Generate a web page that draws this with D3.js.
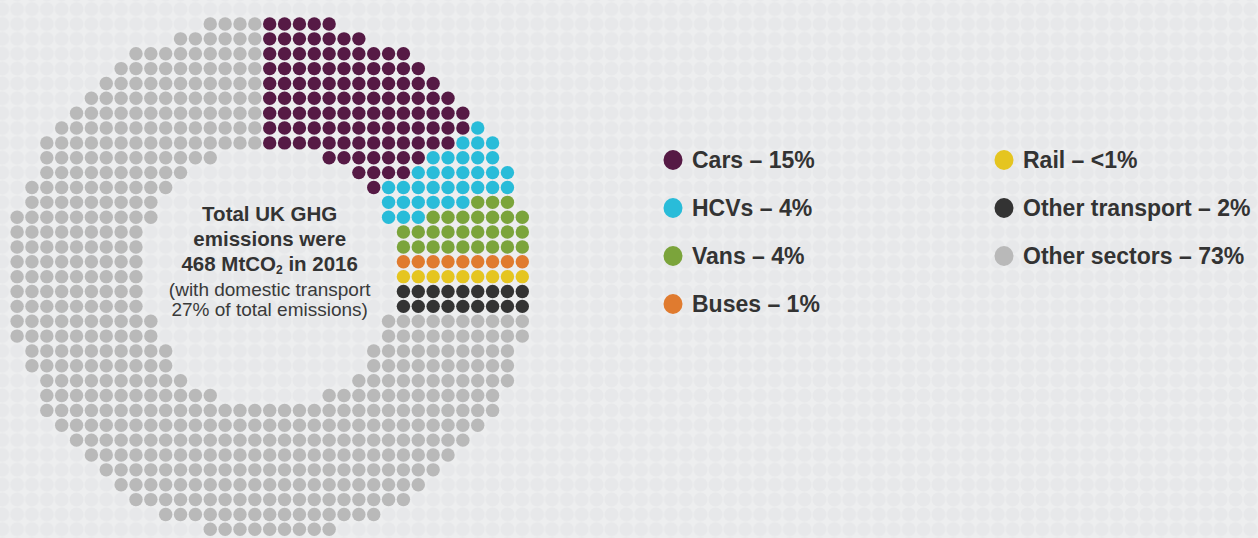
<!DOCTYPE html>
<html><head><meta charset="utf-8">
<script src="https://cdn.jsdelivr.net/npm/d3@7"></script>
<style>html,body{margin:0;padding:0;background:#e8e9eb;overflow:hidden}</style>
</head><body><svg id="chart" width="1258" height="538"></svg>
<script>
// ---- data ----
const categories = ["Cars", "HCVs", "Vans", "Buses", "Rail", "Other transport", "Other sectors"];
const shareLabels = ["15%", "4%", "4%", "1%", "<1%", "2%", "73%"];
const dotCounts = [111, 34, 28, 9, 9, 18, 523];   // dots per category in the ring
const colors = ["#561a45", "#29bcd9", "#7ba43b", "#e07b2f", "#e5c520", "#333333", "#b9b9b9"];
const centreBold = ["Total UK GHG", "emissions were"];
const centreRegular = ["(with domestic transport", "27% of total emissions)"];

// ---- ring shape on a 35 x 35 grid (half-widths per row, in cells) ----
const ringOuterLeft  = [4,6,9,10,11,12,13,14,15,15,15,16,16,17,17,17,17,17,17,17,17,17,16,16,15,15,15,14,13,12,11,10,9,7,4];
const ringOuterRight = [4,6,9,10,11,12,13,14,15,15,16,16,16,17,17,17,17,17,17,17,17,17,16,16,16,15,15,14,13,12,11,10,9,7,4];
const ringInner      = [0,0,0,0,0,0,0,0,0,4,6,7,8,8,9,9,9,9,9,9,8,8,7,7,6,4,0,0,0,0,0,0,0,0,0];

const W = 1258, H = 538;
const svg = d3.select("#chart");
const N = ringInner.length, C = (N - 1) / 2;
const x = d3.scaleLinear().domain([0, N - 1]).range([17.1, 522.3]);
const y = d3.scaleLinear().domain([0, N - 1]).range([24, 529.3]);
const step = x(1) - x(0);
const dotR = 6.7;

// background pattern of faint circles
const defs = svg.append("defs");
const pat = defs.append("pattern").attr("id", "bg").attr("patternUnits", "userSpaceOnUse")
  .attr("width", step).attr("height", step)
  .attr("x", x(0) - step / 2).attr("y", y(0) - step / 2);
pat.append("rect").attr("width", step).attr("height", step).attr("fill", "#edeeef");
pat.append("circle").attr("cx", step / 2).attr("cy", step / 2).attr("r", 6.9).attr("fill", "#e7e8ea");
svg.append("rect").attr("width", W).attr("height", H).attr("fill", "url(#bg)");

// build ring cells
const bandInner = d3.max(ringInner);
const cells = [];
for (let r = 0; r < N; r++) {
  for (let c = 0; c < N; c++) {
    const dx = c - C, dy = r - C;
    const inOuter = dx < 0 ? -dx <= ringOuterLeft[r] : dx <= ringOuterRight[r];
    if (!inOuter || Math.abs(dx) < ringInner[r]) continue;
    let key;
    if (ringInner[r] === bandInner && dx > 0) {
      key = 90 + dy * 3 + dx / 100;          // straight right-hand side: fill row by row
    } else {
      key = (Math.atan2(dx, -dy) * 180 / Math.PI + 360) % 360;  // clockwise from top
    }
    cells.push({ r, c, key, dist: Math.hypot(dx, dy) });
  }
}
cells.sort((a, b) => (a.key - b.key) || (b.dist - a.dist));
let idx = 0;
dotCounts.forEach((n, k) => {
  const last = k === dotCounts.length - 1;
  const end = last ? cells.length : Math.min(cells.length, idx + n);
  for (; idx < end; idx++) cells[idx].cat = k;
});

svg.append("g").selectAll("circle").data(cells).join("circle")
  .attr("cx", d => x(d.c)).attr("cy", d => y(d.r)).attr("r", dotR)
  .attr("fill", d => colors[d.cat]);

// centre text
const font = "'Liberation Sans', Arial, Helvetica, sans-serif";
const cx = x(C);
const tg = svg.append("g").attr("font-family", font).attr("fill", "#333333").attr("text-anchor", "middle");
tg.selectAll("text.b").data(centreBold).join("text").attr("class", "b")
  .attr("x", cx).attr("y", (d, i) => 221 + i * 25)
  .attr("font-size", 20.5).attr("font-weight", "bold").text(d => d);
const t3 = tg.append("text").attr("x", cx).attr("y", 271).attr("font-size", 20.5).attr("font-weight", "bold");
t3.append("tspan").text("468 MtCO");
t3.append("tspan").attr("font-size", 12).attr("dy", 3).text("2");
t3.append("tspan").attr("dy", -3).text(" in 2016");
tg.selectAll("text.r").data(centreRegular).join("text").attr("class", "r")
  .attr("x", cx).attr("y", (d, i) => 296 + i * 20)
  .attr("font-size", 19).attr("fill", "#3a3a3a").text(d => d);

// legend
const legend = categories.map((name, i) => ({ name, i, col: i < 4 ? 0 : 1, row: i < 4 ? i : i - 4 }));
const lx = d3.scaleOrdinal().domain([0, 1]).range([673, 1004]);
const ly = d3.scaleLinear().domain([0, 3]).range([160, 304]);
const lg = svg.append("g").attr("font-family", font);
const items = lg.selectAll("g").data(legend).join("g")
  .attr("transform", d => `translate(${lx(d.col)},${ly(d.row)})`);
items.append("ellipse").attr("rx", 9.5).attr("ry", 10).attr("fill", d => colors[d.i]);
items.append("text").attr("x", 19).attr("dy", "0.36em").attr("font-size", 23)
  .attr("font-weight", "bold").attr("fill", "#333333")
  .text(d => `${d.name} \u2013 ${shareLabels[d.i]}`);
</script></body></html>
